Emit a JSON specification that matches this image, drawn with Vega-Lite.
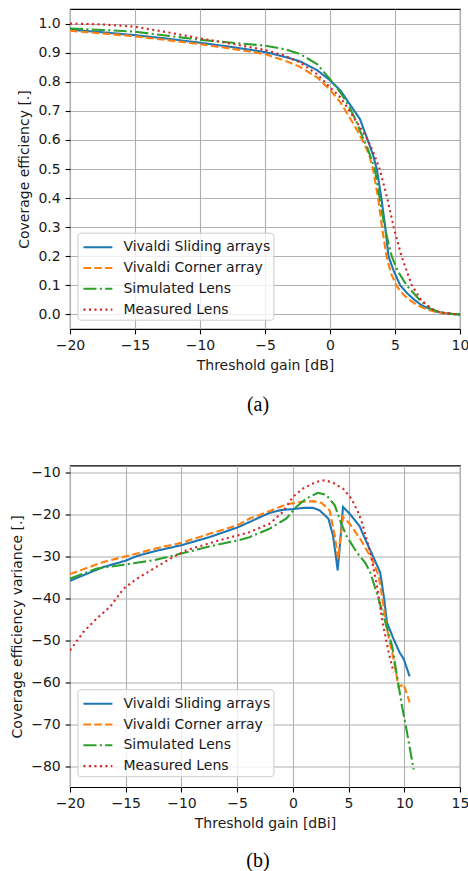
{
  "$schema": "https://vega.github.io/schema/vega-lite/v6.json",
  "padding": {"left": 10, "top": 8, "right": 5, "bottom": 2},
  "datasets": {
    "a": [
      {"s": "Vivaldi Sliding arrays", "x": -20, "y": 0.979}, {"s": "Vivaldi Sliding arrays", "x": -17.5, "y": 0.970}, {"s": "Vivaldi Sliding arrays", "x": -15, "y": 0.960}, {"s": "Vivaldi Sliding arrays", "x": -12.5, "y": 0.948}, {"s": "Vivaldi Sliding arrays", "x": -10, "y": 0.934}, {"s": "Vivaldi Sliding arrays", "x": -7.5, "y": 0.919}, {"s": "Vivaldi Sliding arrays", "x": -5, "y": 0.902}, {"s": "Vivaldi Sliding arrays", "x": -3.5, "y": 0.886}, {"s": "Vivaldi Sliding arrays", "x": -2.3, "y": 0.870}, {"s": "Vivaldi Sliding arrays", "x": -1, "y": 0.840}, {"s": "Vivaldi Sliding arrays", "x": 0, "y": 0.805}, {"s": "Vivaldi Sliding arrays", "x": 0.8, "y": 0.770}, {"s": "Vivaldi Sliding arrays", "x": 1.5, "y": 0.724}, {"s": "Vivaldi Sliding arrays", "x": 2.3, "y": 0.672}, {"s": "Vivaldi Sliding arrays", "x": 2.9, "y": 0.600}, {"s": "Vivaldi Sliding arrays", "x": 3.3, "y": 0.550}, {"s": "Vivaldi Sliding arrays", "x": 3.6, "y": 0.500}, {"s": "Vivaldi Sliding arrays", "x": 3.95, "y": 0.400}, {"s": "Vivaldi Sliding arrays", "x": 4.25, "y": 0.300}, {"s": "Vivaldi Sliding arrays", "x": 4.5, "y": 0.200}, {"s": "Vivaldi Sliding arrays", "x": 4.9, "y": 0.150}, {"s": "Vivaldi Sliding arrays", "x": 5.4, "y": 0.100}, {"s": "Vivaldi Sliding arrays", "x": 6.0, "y": 0.070}, {"s": "Vivaldi Sliding arrays", "x": 6.5, "y": 0.050}, {"s": "Vivaldi Sliding arrays", "x": 7.0, "y": 0.033}, {"s": "Vivaldi Sliding arrays", "x": 7.6, "y": 0.020}, {"s": "Vivaldi Sliding arrays", "x": 8.2, "y": 0.010}, {"s": "Vivaldi Sliding arrays", "x": 8.7, "y": 0.005}, {"s": "Vivaldi Sliding arrays", "x": 9.3, "y": 0.002}, {"s": "Vivaldi Sliding arrays", "x": 10, "y": 0.0},
      {"s": "Vivaldi Corner array", "x": -20, "y": 0.975}, {"s": "Vivaldi Corner array", "x": -17.5, "y": 0.966}, {"s": "Vivaldi Corner array", "x": -15, "y": 0.956}, {"s": "Vivaldi Corner array", "x": -12.5, "y": 0.943}, {"s": "Vivaldi Corner array", "x": -10, "y": 0.929}, {"s": "Vivaldi Corner array", "x": -7.5, "y": 0.913}, {"s": "Vivaldi Corner array", "x": -5, "y": 0.895}, {"s": "Vivaldi Corner array", "x": -3.5, "y": 0.873}, {"s": "Vivaldi Corner array", "x": -2.3, "y": 0.851}, {"s": "Vivaldi Corner array", "x": -1, "y": 0.815}, {"s": "Vivaldi Corner array", "x": 0, "y": 0.772}, {"s": "Vivaldi Corner array", "x": 0.8, "y": 0.729}, {"s": "Vivaldi Corner array", "x": 1.5, "y": 0.678}, {"s": "Vivaldi Corner array", "x": 2.1, "y": 0.632}, {"s": "Vivaldi Corner array", "x": 2.6, "y": 0.590}, {"s": "Vivaldi Corner array", "x": 3.0, "y": 0.550}, {"s": "Vivaldi Corner array", "x": 3.3, "y": 0.500}, {"s": "Vivaldi Corner array", "x": 3.7, "y": 0.400}, {"s": "Vivaldi Corner array", "x": 4.0, "y": 0.300}, {"s": "Vivaldi Corner array", "x": 4.35, "y": 0.200}, {"s": "Vivaldi Corner array", "x": 4.7, "y": 0.140}, {"s": "Vivaldi Corner array", "x": 5.1, "y": 0.100}, {"s": "Vivaldi Corner array", "x": 5.6, "y": 0.070}, {"s": "Vivaldi Corner array", "x": 6.1, "y": 0.050}, {"s": "Vivaldi Corner array", "x": 6.7, "y": 0.032}, {"s": "Vivaldi Corner array", "x": 7.3, "y": 0.020}, {"s": "Vivaldi Corner array", "x": 8.0, "y": 0.010}, {"s": "Vivaldi Corner array", "x": 8.6, "y": 0.005}, {"s": "Vivaldi Corner array", "x": 9.3, "y": 0.002}, {"s": "Vivaldi Corner array", "x": 10, "y": 0.0},
      {"s": "Simulated Lens", "x": -20, "y": 0.983}, {"s": "Simulated Lens", "x": -17.5, "y": 0.978}, {"s": "Simulated Lens", "x": -15, "y": 0.972}, {"s": "Simulated Lens", "x": -12.5, "y": 0.958}, {"s": "Simulated Lens", "x": -10, "y": 0.944}, {"s": "Simulated Lens", "x": -7.5, "y": 0.934}, {"s": "Simulated Lens", "x": -5, "y": 0.924}, {"s": "Simulated Lens", "x": -3.5, "y": 0.912}, {"s": "Simulated Lens", "x": -2.3, "y": 0.895}, {"s": "Simulated Lens", "x": -1, "y": 0.861}, {"s": "Simulated Lens", "x": 0, "y": 0.809}, {"s": "Simulated Lens", "x": 0.8, "y": 0.763}, {"s": "Simulated Lens", "x": 1.5, "y": 0.712}, {"s": "Simulated Lens", "x": 2.0, "y": 0.666}, {"s": "Simulated Lens", "x": 2.3, "y": 0.632}, {"s": "Simulated Lens", "x": 2.9, "y": 0.570}, {"s": "Simulated Lens", "x": 3.45, "y": 0.500}, {"s": "Simulated Lens", "x": 3.82, "y": 0.400}, {"s": "Simulated Lens", "x": 4.2, "y": 0.300}, {"s": "Simulated Lens", "x": 4.75, "y": 0.200}, {"s": "Simulated Lens", "x": 5.2, "y": 0.150}, {"s": "Simulated Lens", "x": 5.9, "y": 0.100}, {"s": "Simulated Lens", "x": 6.9, "y": 0.050}, {"s": "Simulated Lens", "x": 7.7, "y": 0.020}, {"s": "Simulated Lens", "x": 8.3, "y": 0.010}, {"s": "Simulated Lens", "x": 8.8, "y": 0.005}, {"s": "Simulated Lens", "x": 9.4, "y": 0.002}, {"s": "Simulated Lens", "x": 10, "y": 0.0},
      {"s": "Measured Lens", "x": -20, "y": 1.0}, {"s": "Measured Lens", "x": -17.5, "y": 0.997}, {"s": "Measured Lens", "x": -15, "y": 0.989}, {"s": "Measured Lens", "x": -12.5, "y": 0.970}, {"s": "Measured Lens", "x": -10, "y": 0.949}, {"s": "Measured Lens", "x": -7.5, "y": 0.930}, {"s": "Measured Lens", "x": -5, "y": 0.909}, {"s": "Measured Lens", "x": -3.5, "y": 0.890}, {"s": "Measured Lens", "x": -2.3, "y": 0.866}, {"s": "Measured Lens", "x": -1, "y": 0.826}, {"s": "Measured Lens", "x": 0, "y": 0.781}, {"s": "Measured Lens", "x": 0.8, "y": 0.746}, {"s": "Measured Lens", "x": 1.5, "y": 0.700}, {"s": "Measured Lens", "x": 2.0, "y": 0.665}, {"s": "Measured Lens", "x": 2.5, "y": 0.630}, {"s": "Measured Lens", "x": 2.9, "y": 0.600}, {"s": "Measured Lens", "x": 3.4, "y": 0.550}, {"s": "Measured Lens", "x": 3.82, "y": 0.500}, {"s": "Measured Lens", "x": 4.4, "y": 0.400}, {"s": "Measured Lens", "x": 4.9, "y": 0.300}, {"s": "Measured Lens", "x": 5.5, "y": 0.200}, {"s": "Measured Lens", "x": 5.9, "y": 0.150}, {"s": "Measured Lens", "x": 6.3, "y": 0.100}, {"s": "Measured Lens", "x": 7.0, "y": 0.050}, {"s": "Measured Lens", "x": 7.8, "y": 0.020}, {"s": "Measured Lens", "x": 8.3, "y": 0.010}, {"s": "Measured Lens", "x": 8.8, "y": 0.005}, {"s": "Measured Lens", "x": 9.4, "y": 0.002}, {"s": "Measured Lens", "x": 10, "y": 0.0}
    ],
    "b": [
      {"s": "Vivaldi Sliding arrays", "x": -20, "y": -35.8}, {"s": "Vivaldi Sliding arrays", "x": -17, "y": -32.5}, {"s": "Vivaldi Sliding arrays", "x": -15, "y": -31.0}, {"s": "Vivaldi Sliding arrays", "x": -14, "y": -29.9}, {"s": "Vivaldi Sliding arrays", "x": -12.5, "y": -28.8}, {"s": "Vivaldi Sliding arrays", "x": -10, "y": -27.3}, {"s": "Vivaldi Sliding arrays", "x": -7.5, "y": -25.4}, {"s": "Vivaldi Sliding arrays", "x": -5, "y": -23.1}, {"s": "Vivaldi Sliding arrays", "x": -3.9, "y": -21.8}, {"s": "Vivaldi Sliding arrays", "x": -2.1, "y": -19.6}, {"s": "Vivaldi Sliding arrays", "x": -1, "y": -18.9}, {"s": "Vivaldi Sliding arrays", "x": 0, "y": -18.7}, {"s": "Vivaldi Sliding arrays", "x": 1, "y": -18.4}, {"s": "Vivaldi Sliding arrays", "x": 1.8, "y": -18.4}, {"s": "Vivaldi Sliding arrays", "x": 2.4, "y": -19.0}, {"s": "Vivaldi Sliding arrays", "x": 3.2, "y": -21.0}, {"s": "Vivaldi Sliding arrays", "x": 3.6, "y": -25.0}, {"s": "Vivaldi Sliding arrays", "x": 3.85, "y": -29.7}, {"s": "Vivaldi Sliding arrays", "x": 4.02, "y": -33.3}, {"s": "Vivaldi Sliding arrays", "x": 4.2, "y": -28.1}, {"s": "Vivaldi Sliding arrays", "x": 4.5, "y": -18.2}, {"s": "Vivaldi Sliding arrays", "x": 5.1, "y": -19.8}, {"s": "Vivaldi Sliding arrays", "x": 6.0, "y": -22.8}, {"s": "Vivaldi Sliding arrays", "x": 6.35, "y": -25.0}, {"s": "Vivaldi Sliding arrays", "x": 7.1, "y": -29.4}, {"s": "Vivaldi Sliding arrays", "x": 7.84, "y": -33.8}, {"s": "Vivaldi Sliding arrays", "x": 8.2, "y": -40.2}, {"s": "Vivaldi Sliding arrays", "x": 8.44, "y": -45.7}, {"s": "Vivaldi Sliding arrays", "x": 9.04, "y": -49.7}, {"s": "Vivaldi Sliding arrays", "x": 9.58, "y": -52.9}, {"s": "Vivaldi Sliding arrays", "x": 9.94, "y": -54.4}, {"s": "Vivaldi Sliding arrays", "x": 10.48, "y": -58.6},
      {"s": "Vivaldi Corner array", "x": -20, "y": -34.2}, {"s": "Vivaldi Corner array", "x": -17, "y": -31.3}, {"s": "Vivaldi Corner array", "x": -14, "y": -29.3}, {"s": "Vivaldi Corner array", "x": -12.5, "y": -28.2}, {"s": "Vivaldi Corner array", "x": -10, "y": -26.7}, {"s": "Vivaldi Corner array", "x": -7.5, "y": -24.6}, {"s": "Vivaldi Corner array", "x": -5, "y": -22.6}, {"s": "Vivaldi Corner array", "x": -3.9, "y": -21.0}, {"s": "Vivaldi Corner array", "x": -2.1, "y": -19.2}, {"s": "Vivaldi Corner array", "x": -0.6, "y": -17.6}, {"s": "Vivaldi Corner array", "x": 0.6, "y": -17.0}, {"s": "Vivaldi Corner array", "x": 1.8, "y": -16.8}, {"s": "Vivaldi Corner array", "x": 2.56, "y": -17.2}, {"s": "Vivaldi Corner array", "x": 3.3, "y": -19.0}, {"s": "Vivaldi Corner array", "x": 3.76, "y": -25.0}, {"s": "Vivaldi Corner array", "x": 4.06, "y": -30.5}, {"s": "Vivaldi Corner array", "x": 4.26, "y": -25.8}, {"s": "Vivaldi Corner array", "x": 4.5, "y": -20.6}, {"s": "Vivaldi Corner array", "x": 5.1, "y": -22.2}, {"s": "Vivaldi Corner array", "x": 6.0, "y": -25.6}, {"s": "Vivaldi Corner array", "x": 7.1, "y": -30.6}, {"s": "Vivaldi Corner array", "x": 7.7, "y": -34.6}, {"s": "Vivaldi Corner array", "x": 8.0, "y": -39.4}, {"s": "Vivaldi Corner array", "x": 8.44, "y": -47.3}, {"s": "Vivaldi Corner array", "x": 9.04, "y": -54.4}, {"s": "Vivaldi Corner array", "x": 9.49, "y": -61.2}, {"s": "Vivaldi Corner array", "x": 9.94, "y": -60.4}, {"s": "Vivaldi Corner array", "x": 10.48, "y": -64.8},
      {"s": "Simulated Lens", "x": -20, "y": -35.3}, {"s": "Simulated Lens", "x": -17.6, "y": -32.9}, {"s": "Simulated Lens", "x": -15.5, "y": -32.1}, {"s": "Simulated Lens", "x": -12.5, "y": -30.9}, {"s": "Simulated Lens", "x": -10, "y": -29.3}, {"s": "Simulated Lens", "x": -7.5, "y": -27.6}, {"s": "Simulated Lens", "x": -5, "y": -26.2}, {"s": "Simulated Lens", "x": -3.9, "y": -25.4}, {"s": "Simulated Lens", "x": -2.1, "y": -23.4}, {"s": "Simulated Lens", "x": -1, "y": -21.6}, {"s": "Simulated Lens", "x": -0.6, "y": -21.0}, {"s": "Simulated Lens", "x": 0.3, "y": -18.2}, {"s": "Simulated Lens", "x": 1.2, "y": -16.2}, {"s": "Simulated Lens", "x": 2.25, "y": -14.8}, {"s": "Simulated Lens", "x": 3.0, "y": -15.3}, {"s": "Simulated Lens", "x": 3.76, "y": -17.8}, {"s": "Simulated Lens", "x": 4.35, "y": -22.2}, {"s": "Simulated Lens", "x": 4.8, "y": -25.0}, {"s": "Simulated Lens", "x": 5.7, "y": -28.9}, {"s": "Simulated Lens", "x": 6.5, "y": -31.5}, {"s": "Simulated Lens", "x": 6.95, "y": -33.8}, {"s": "Simulated Lens", "x": 7.7, "y": -40.2}, {"s": "Simulated Lens", "x": 8.3, "y": -45.7}, {"s": "Simulated Lens", "x": 8.9, "y": -51.3}, {"s": "Simulated Lens", "x": 9.34, "y": -58.4}, {"s": "Simulated Lens", "x": 9.79, "y": -65.6}, {"s": "Simulated Lens", "x": 10.24, "y": -71.9}, {"s": "Simulated Lens", "x": 10.84, "y": -80.8},
      {"s": "Measured Lens", "x": -20, "y": -52.4}, {"s": "Measured Lens", "x": -18.8, "y": -48.0}, {"s": "Measured Lens", "x": -17.6, "y": -44.8}, {"s": "Measured Lens", "x": -16.4, "y": -42.0}, {"s": "Measured Lens", "x": -15.2, "y": -37.7}, {"s": "Measured Lens", "x": -14.0, "y": -35.3}, {"s": "Measured Lens", "x": -12.5, "y": -32.9}, {"s": "Measured Lens", "x": -11.0, "y": -30.5}, {"s": "Measured Lens", "x": -9.55, "y": -28.5}, {"s": "Measured Lens", "x": -8.05, "y": -27.3}, {"s": "Measured Lens", "x": -6.56, "y": -26.1}, {"s": "Measured Lens", "x": -5, "y": -25.0}, {"s": "Measured Lens", "x": -3.9, "y": -24.2}, {"s": "Measured Lens", "x": -2.1, "y": -22.2}, {"s": "Measured Lens", "x": -0.9, "y": -19.4}, {"s": "Measured Lens", "x": 0, "y": -15.8}, {"s": "Measured Lens", "x": 0.9, "y": -13.8}, {"s": "Measured Lens", "x": 2.1, "y": -12.2}, {"s": "Measured Lens", "x": 2.86, "y": -11.8}, {"s": "Measured Lens", "x": 3.6, "y": -12.4}, {"s": "Measured Lens", "x": 4.5, "y": -13.8}, {"s": "Measured Lens", "x": 5.25, "y": -16.2}, {"s": "Measured Lens", "x": 5.85, "y": -19.4}, {"s": "Measured Lens", "x": 6.2, "y": -21.9}, {"s": "Measured Lens", "x": 6.95, "y": -29.0}, {"s": "Measured Lens", "x": 7.55, "y": -37.0}, {"s": "Measured Lens", "x": 8.0, "y": -44.9}, {"s": "Measured Lens", "x": 8.6, "y": -52.9}, {"s": "Measured Lens", "x": 9.04, "y": -57.6}
    ]
  },
  "vconcat": [
    {
      "width": 390,
      "height": 320,
      "data": {"name": "a"},
      "title": {"text": "(a)", "orient": "bottom", "font": "Liberation Serif", "fontSize": 20, "fontWeight": "normal", "color": "#000", "offset": 22, "dx": -7},
      "mark": {"type": "line", "strokeWidth": 2.1, "clip": true},
      "encoding": {
        "x": {"field": "x", "type": "quantitative", "scale": {"domain": [-20, 10], "nice": false, "zero": false}, "axis": {"title": "Threshold gain [dB]", "values": [-20, -15, -10, -5, 0, 5, 10]}},
        "y": {"field": "y", "type": "quantitative", "scale": {"domain": [-0.05, 1.05], "nice": false, "zero": false}, "axis": {"title": "Coverage efficiency [.]", "values": [0, 0.1, 0.2, 0.3, 0.4, 0.5, 0.6, 0.7, 0.8, 0.9, 1.0], "format": ".1f"}},
        "color": {"field": "s", "type": "nominal", "sort": null, "scale": {"domain": ["Vivaldi Sliding arrays", "Vivaldi Corner array", "Simulated Lens", "Measured Lens"], "range": ["#1f77b4", "#ff7f0e", "#2ca02c", "#d62728"]}, "legend": {"title": null}},
        "strokeDash": {"field": "s", "type": "nominal", "sort": null, "scale": {"domain": ["Vivaldi Sliding arrays", "Vivaldi Corner array", "Simulated Lens", "Measured Lens"], "range": [[1, 0], [7.6, 3.3], [13.1, 3.3, 2.1, 3.3], [2.1, 3.4]]}, "legend": {"title": null}}
      }
    },
    {
      "width": 390,
      "height": 321.6,
      "data": {"name": "b"},
      "title": {"text": "(b)", "orient": "bottom", "font": "Liberation Serif", "fontSize": 20, "fontWeight": "normal", "color": "#000", "offset": 20, "dx": -7},
      "mark": {"type": "line", "strokeWidth": 2.1, "clip": true},
      "encoding": {
        "x": {"field": "x", "type": "quantitative", "scale": {"domain": [-20, 15], "nice": false, "zero": false}, "axis": {"title": "Threshold gain [dBi]", "values": [-20, -15, -10, -5, 0, 5, 10, 15]}},
        "y": {"field": "y", "type": "quantitative", "scale": {"domain": [-85, -8.3], "nice": false, "zero": false}, "axis": {"title": "Coverage efficiency variance [.]", "values": [-80, -70, -60, -50, -40, -30, -20, -10]}},
        "color": {"field": "s", "type": "nominal", "sort": null, "scale": {"domain": ["Vivaldi Sliding arrays", "Vivaldi Corner array", "Simulated Lens", "Measured Lens"], "range": ["#1f77b4", "#ff7f0e", "#2ca02c", "#d62728"]}, "legend": {"title": null}},
        "strokeDash": {"field": "s", "type": "nominal", "sort": null, "scale": {"domain": ["Vivaldi Sliding arrays", "Vivaldi Corner array", "Simulated Lens", "Measured Lens"], "range": [[1, 0], [7.6, 3.3], [13.1, 3.3, 2.1, 3.3], [2.1, 3.4]]}, "legend": {"title": null}}
      }
    }
  ],
  "spacing": 48.5,
  "resolve": {"scale": {"color": "independent", "strokeDash": "independent"}},
  "config": {
    "font": "DejaVu Sans",
    "view": {"stroke": "#000", "strokeWidth": 1.1},
    "axis": {"domain": false, "grid": true, "gridColor": "#b0b0b0", "gridWidth": 1.1, "gridOpacity": 1, "tickColor": "#000", "tickSize": 4.9, "tickWidth": 1.1, "labelPadding": 4.9, "labelFont": "DejaVu Sans", "labelFontSize": 14, "labelColor": "#1a1a1a", "titleFont": "DejaVu Sans", "titleFontSize": 14, "titleFontWeight": "normal", "titleColor": "#1a1a1a", "titlePadding": 6, "labelFlush": false, "labelOverlap": false},
    "legend": {"orient": "none", "legendX": 7.4, "legendY": 223.7, "symbolType": "M-1.45,0H1.45", "symbolSize": 400, "symbolStrokeWidth": 2.1, "labelFont": "DejaVu Sans", "labelFontSize": 14, "labelColor": "#1a1a1a", "padding": 3, "rowPadding": 1.8, "symbolOffset": 6, "labelOffset": 14, "fillColor": "rgba(255,255,255,0.8)", "strokeColor": "#cccccc", "cornerRadius": 3, "labelLimit": 300}
  }
}
